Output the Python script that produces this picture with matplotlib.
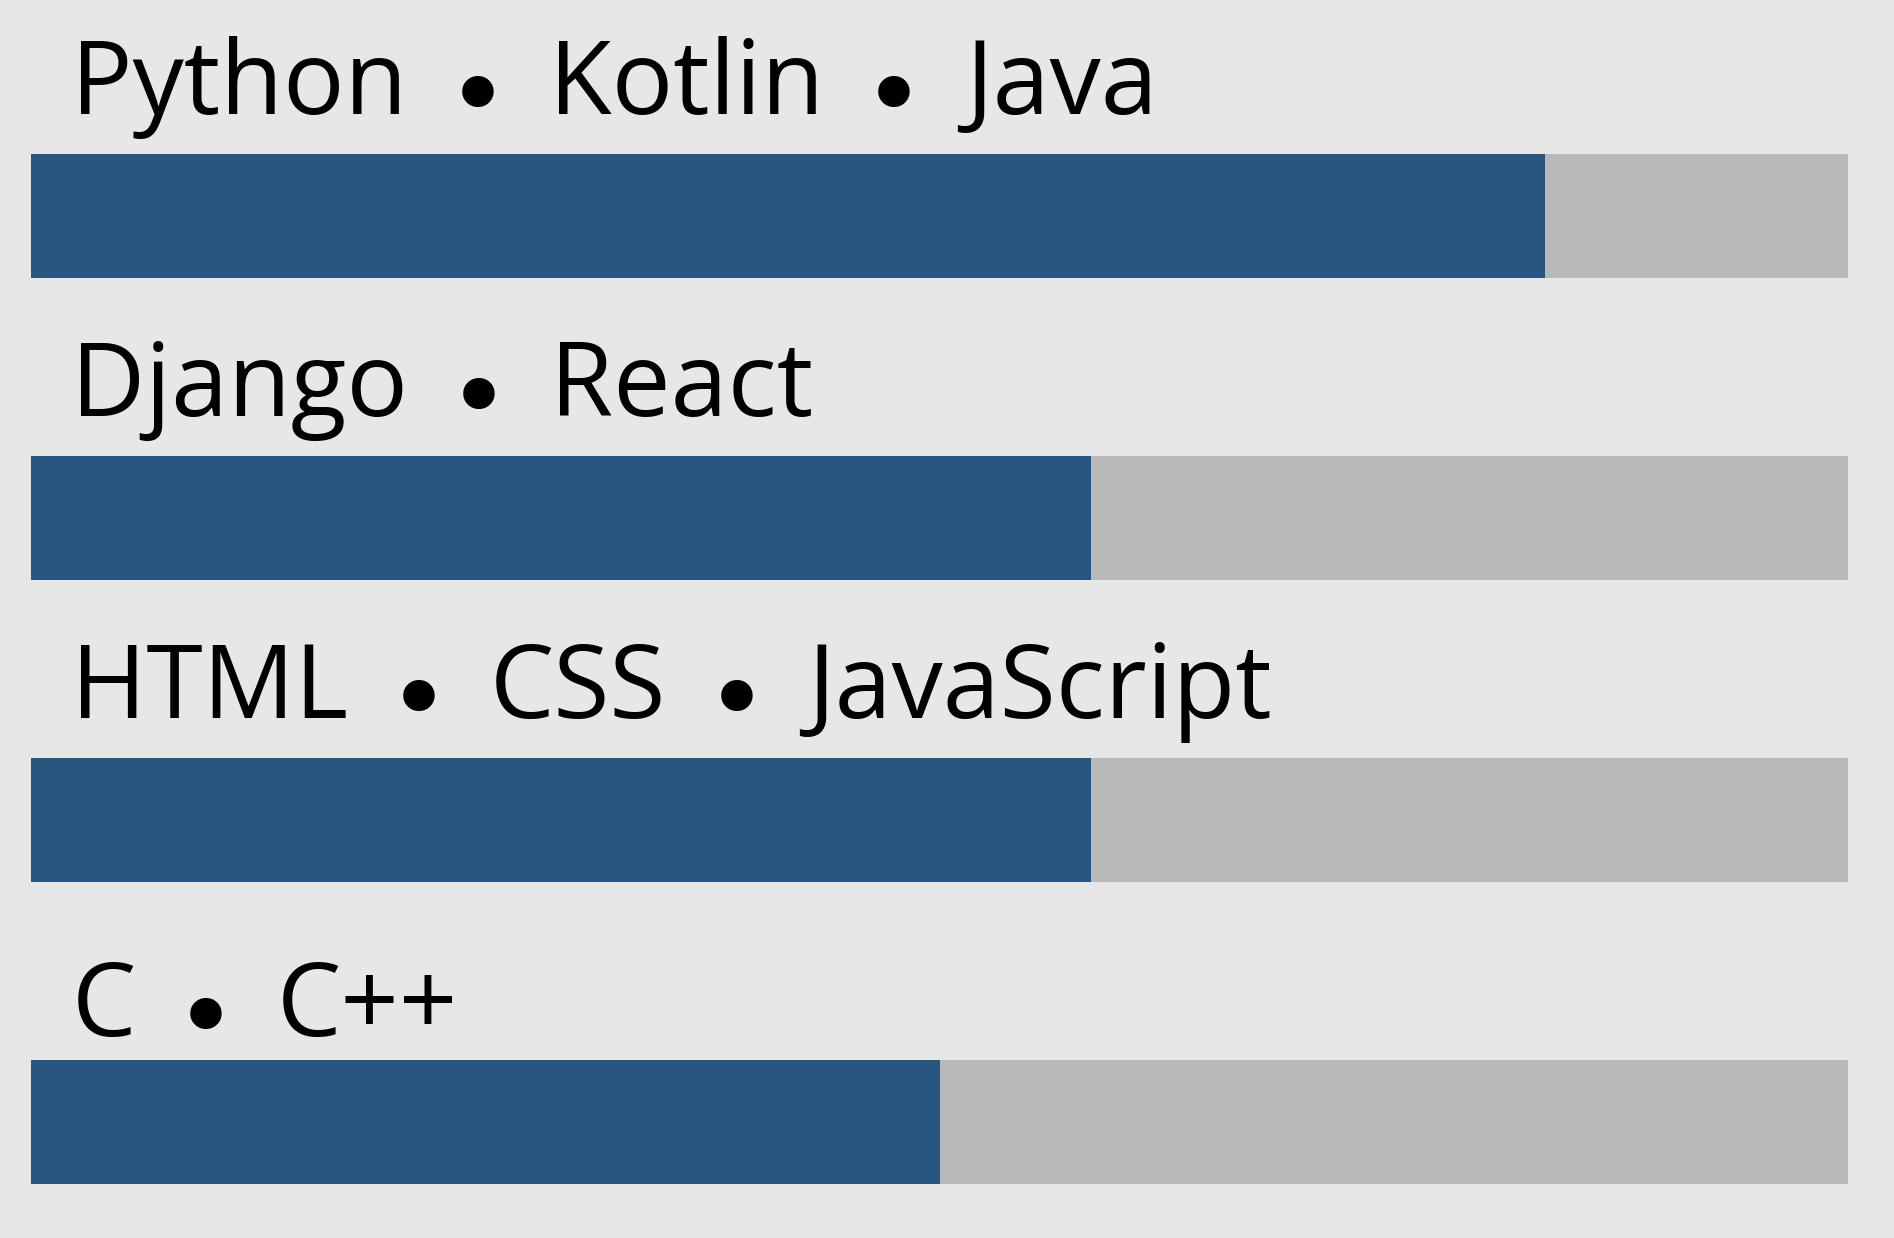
import matplotlib
matplotlib.use("Agg")
import matplotlib.pyplot as plt

### data ###
skills = [["Python", "Kotlin", "Java"],
          ["Django", "React"],
          ["HTML", "CSS", "JavaScript"],
          ["C", "C++"]]
levels = [5, 3.5, 3.5, 3]
max_level = 6

bg = "#e7e7e7"
blue = "#27557f"
grey = "#b8b8b8"

fig = plt.figure(figsize=(18.94, 12.38), dpi=100, facecolor=bg)
ax = fig.add_axes([31.4 / 1894, 0, 1816.6 / 1894, 1])
ax.set_facecolor(bg)

bar_h = 0.41
px = 1 / 302  # one pixel in y data units
word_kw = dict(fontsize=73.6, family=["Open Sans", "DejaVu Sans"], color="black", va="baseline", ha="left")
dot_kw = dict(fontsize=78, family="DejaVu Sans", color="black", va="baseline", ha="left")

for i, (words, lv) in enumerate(zip(skills, levels)):
	ax.barh(i, max_level, height=bar_h, color=grey)
	ax.barh(i, lv, height=bar_h, color=blue)

	# words with descenders sit higher (label box bottom-aligned)
	desc = any(c in "".join(words) for c in "gjpqyJ")
	base = i - bar_h / 2 - (40 if desc else 24) * px
	prev = ax.text(0.132, base, words[0], **word_kw)
	for w in words[1:]:
		dot = ax.annotate("•", xy=(1, base), xycoords=(prev, "data"), xytext=(27.4, -13),
			textcoords="offset points", **dot_kw)
		prev = ax.annotate(w, xy=(1, base), xycoords=(dot, "data"), xytext=(28.4, 0),
			textcoords="offset points", **word_kw)

ax.set_xlim(0, max_level)
ax.set_ylim(3.385, -0.714)
ax.axis("off")

fig.savefig("out.png", dpi=100, facecolor=bg)
